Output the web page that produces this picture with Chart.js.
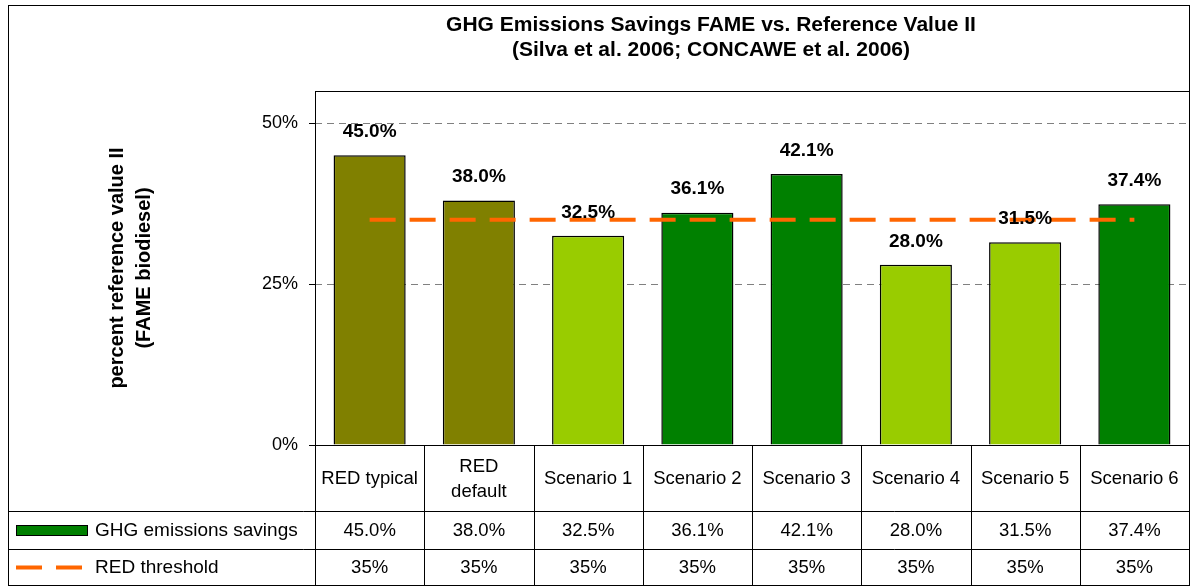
<!doctype html>
<html>
<head>
<meta charset="utf-8">
<title>GHG Emissions Savings FAME vs. Reference Value II</title>
<style>
  html, body { margin: 0; padding: 0; background: #fff; }
  #chart { display: block; }
</style>
</head>
<body>
<canvas id="chart" width="1192" height="588"></canvas>

<script src="https://cdn.jsdelivr.net/npm/chart.js@4"></script>
<script>
// categories (array entries wrap to two lines in the table header)
const categories = ['RED typical', ['RED', 'default'], 'Scenario 1', 'Scenario 2',
                    'Scenario 3', 'Scenario 4', 'Scenario 5', 'Scenario 6'];
const savings = [45.0, 38.0, 32.5, 36.1, 42.1, 28.0, 31.5, 37.4];
const threshold = [35, 35, 35, 35, 35, 35, 35, 35];
const yTicks = [0, 25, 50];
const seriesNames = ['GHG emissions savings', 'RED threshold'];
const titleLines = ['GHG Emissions Savings FAME vs. Reference Value II',
                    '(Silva et al. 2006; CONCAWE et al. 2006)'];
const yTitle = ['percent reference value II', '(FAME biodiesel)'];

const OLIVE = '#808000', LIME = '#99CC00', GREEN = '#008000', ORANGE = '#FF6600';
const barColors = [OLIVE, OLIVE, LIME, GREEN, GREEN, LIME, LIME, GREEN];

const FONT = '"Liberation Sans", Arial, sans-serif';
Chart.defaults.font.family = FONT;
Chart.defaults.font.size = 18;
Chart.defaults.color = '#000';

// row heights of the data table under the plot
const ROW_CAT = 66, ROW_S1 = 38, ROW_S2 = 36;

const tablePlugin = {
  id: 'dataTable',
  afterDatasetsDraw(chart) {
    // value labels above the bars
    const ctx = chart.ctx;
    const meta = chart.getDatasetMeta(0);
    ctx.save();
    ctx.font = 'bold 19px ' + FONT;
    ctx.fillStyle = '#000';
    ctx.textAlign = 'center';
    ctx.textBaseline = 'middle';
    meta.data.forEach((bar, i) => {
      ctx.fillText(savings[i].toFixed(1) + '%', bar.x, bar.y - 23.5);
    });
    ctx.restore();
  },
  afterDraw(chart) {
    const ctx = chart.ctx;
    const area = chart.chartArea;
    const x = chart.scales.x;
    const n = categories.length;
    const colW = (x.right - x.left) / n;
    const left = 8.5, right = Math.round(area.right) + 0.5;
    const t0 = Math.round(area.bottom) + 0.5;
    const t1 = t0 + ROW_CAT, t2 = t1 + ROW_S1, t3 = t2 + ROW_S2;

    ctx.save();
    // plot area frame
    ctx.strokeStyle = '#000';
    ctx.lineWidth = 1;
    ctx.strokeRect(Math.round(area.left) + 0.5, Math.round(area.top) + 0.5,
                   Math.round(area.right - area.left), Math.round(area.bottom - area.top));

    // table grid
    ctx.beginPath();
    [t0, t1, t2, t3].forEach((y, k) => {
      ctx.moveTo(k === 0 ? area.left : left, y);
      ctx.lineTo(right, y);
    });
    for (let i = 0; i <= n; i++) {
      const cx = Math.round(x.left + i * colW) + 0.5;
      ctx.moveTo(cx, t0);
      ctx.lineTo(cx, t3);
    }
    ctx.stroke();

    // table text
    ctx.font = '18.5px ' + FONT;
    ctx.fillStyle = '#000';
    ctx.textAlign = 'center';
    ctx.textBaseline = 'middle';
    categories.forEach((c, i) => {
      const cx = x.getPixelForValue(i);
      if (Array.isArray(c)) {
        ctx.fillText(c[0], cx, t0 + ROW_CAT / 2 - 12);
        ctx.fillText(c[1], cx, t0 + ROW_CAT / 2 + 13);
      } else {
        ctx.fillText(c, cx, t0 + ROW_CAT / 2);
      }
      ctx.fillText(savings[i].toFixed(1) + '%', cx, t1 + ROW_S1 / 2);
      ctx.fillText(threshold[i] + '%', cx, t2 + ROW_S2 / 2);
    });

    // row headers with series keys
    ctx.textAlign = 'left';
    ctx.font = '19px ' + FONT;
    ctx.fillText(seriesNames[0], 95, t1 + ROW_S1 / 2);
    ctx.fillText(seriesNames[1], 95, t2 + ROW_S2 / 2);
    const ky = t1 + ROW_S1 / 2;
    ctx.fillStyle = GREEN;
    ctx.fillRect(16, ky - 5.5, 72, 11);
    ctx.strokeRect(16.5, ky - 5, 71, 10);
    ctx.strokeStyle = ORANGE;
    ctx.lineWidth = 4;
    ctx.beginPath();
    const ly = t2 + ROW_S2 / 2;
    ctx.moveTo(16, ly); ctx.lineTo(42, ly);
    ctx.moveTo(56, ly); ctx.lineTo(82, ly);
    ctx.stroke();

    // chart title
    ctx.fillStyle = '#000';
    ctx.textAlign = 'center';
    ctx.font = 'bold 21px ' + FONT;
    ctx.fillText(titleLines[0], 711, 25);
    ctx.fillText(titleLines[1], 711, 50);

    // outer frame
    ctx.strokeStyle = '#000';
    ctx.lineWidth = 1;
    ctx.strokeRect(left, 5.5, right - left, t3 - 5.5);
    ctx.restore();
  }
};

new Chart(document.getElementById('chart'), {
  type: 'bar',
  data: {
    labels: categories,
    datasets: [{
      type: 'bar',
      label: seriesNames[0],
      data: savings,
      backgroundColor: barColors,
      borderColor: '#000',
      borderWidth: 1.5,
      barPercentage: 0.66,
      categoryPercentage: 1,
      order: 1
    }, {
      type: 'line',
      label: seriesNames[1],
      data: threshold,
      borderColor: ORANGE,
      borderWidth: 4,
      borderDash: [26, 14],
      pointRadius: 0,
      fill: false,
      order: 0
    }]
  },
  options: {
    responsive: false,
    animation: false,
    layout: { padding: { left: 8, right: 3, top: 91, bottom: 3 } },
    plugins: {
      legend: { display: false },
      title: { display: false },
      tooltip: { enabled: false }
    },
    scales: {
      x: {
        grid: { display: false },
        border: { display: false },
        ticks: { display: false },
        afterFit(scale) { scale.height = 140; }
      },
      y: {
        min: 0,
        max: 55,
        afterBuildTicks(scale) { scale.ticks = yTicks.map(v => ({ value: v })); },
        afterFit(scale) { scale.width = 307; },
        ticks: { padding: 11, callback: v => v + '%' },
        border: { display: false, dash: [7, 5] },
        grid: {
          color: '#808080',
          lineWidth: 1,
          tickColor: '#000',
          tickBorderDash: [],
          tickLength: 6
        },
        title: {
          display: true,
          text: yTitle,
          font: { size: 20, weight: 'bold', lineHeight: 1.35 },
          padding: { top: 96, bottom: 0 }
        }
      }
    }
  },
  plugins: [tablePlugin]
});
</script>
</body>
</html>
